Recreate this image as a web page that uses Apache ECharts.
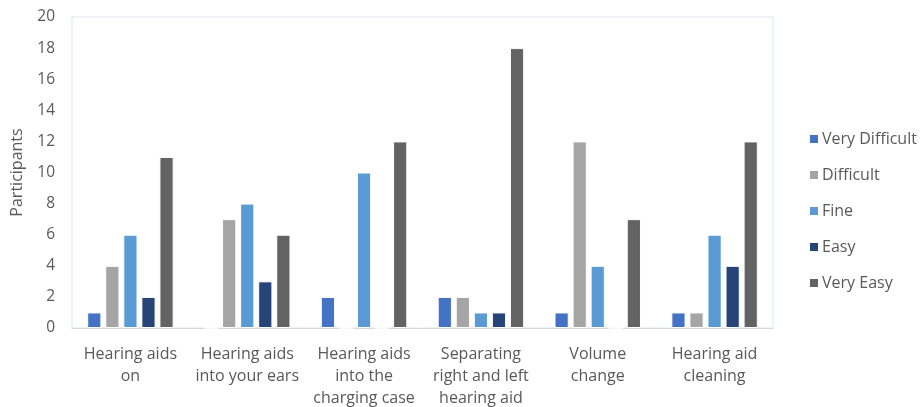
<!DOCTYPE html>
<html>
<head>
<meta charset="utf-8">
<script src="https://cdn.jsdelivr.net/npm/echarts@6/dist/echarts.min.js"></script>
<style>
  html, body { margin: 0; padding: 0; background: #fff; }
  #chart { width: 923px; height: 407px; }
</style>
</head>
<body>
<div id="chart"></div>
<script>
// Tasks rated by participants
const categories = [
  'Hearing aids\non',
  'Hearing aids\ninto your ears',
  'Hearing aids\ninto the\ncharging case',
  'Separating\nright and left\nhearing aid',
  'Volume\nchange',
  'Hearing aid\ncleaning'
];

// Ratings per task
const veryDifficult = [1, 0, 2, 2, 1, 1];
const difficult     = [4, 7, 0, 2, 12, 1];
const fine          = [6, 8, 10, 1, 4, 6];
const easy          = [2, 3, 0, 1, 0, 4];
const veryEasy      = [11, 6, 12, 18, 7, 12];

const yTicks = { min: 0, max: 20, interval: 2 };

const seriesDefs = [
  { name: 'Very Difficult', data: veryDifficult, color: '#4472C4' },
  { name: 'Difficult',      data: difficult,     color: '#A5A5A5' },
  { name: 'Fine',           data: fine,          color: '#5B9BD5' },
  { name: 'Easy',           data: easy,          color: '#264478' },
  { name: 'Very Easy',      data: veryEasy,      color: '#636363' }
];

const FONT = 'Open Sans';
const TEXT = '#595959';

const chart = echarts.init(document.getElementById('chart'), null, { renderer: 'canvas' });
chart.setOption({
  animation: false,
  textStyle: { fontFamily: FONT },
  grid: {
    left: 72, top: 17, width: 701, height: 311,
    containLabel: false,
    outerBoundsMode: 'none',
    show: true, borderColor: '#dde7f4', borderWidth: 1, backgroundColor: 'transparent'
  },
  legend: {
    orient: 'vertical',
    left: 803, top: 126,
    itemWidth: 10, itemHeight: 10, itemGap: 20,
    icon: 'rect',
    textStyle: { fontFamily: FONT, fontSize: 16, color: TEXT, padding: [0, 0, 0, -2] },
    data: seriesDefs.map(s => s.name)
  },
  xAxis: {
    type: 'category',
    data: categories,
    axisLine: { lineStyle: { color: '#d9d9d9', width: 1 } },
    axisTick: { show: false },
    axisLabel: {
      interval: 0, margin: 15, fontFamily: FONT, fontSize: 16, color: TEXT, lineHeight: 22
    }
  },
  yAxis: {
    type: 'value',
    min: yTicks.min, max: yTicks.max, interval: yTicks.interval,
    name: 'Participants',
    nameLocation: 'middle',
    nameGap: 47,
    nameTextStyle: { fontFamily: FONT, fontSize: 16, color: TEXT },
    axisLine: { show: false },
    axisTick: { show: false },
    splitLine: { show: false },
    axisLabel: { margin: 17, fontFamily: FONT, fontSize: 15.5, color: TEXT }
  },
  series: seriesDefs.map(s => ({
    name: s.name,
    type: 'bar',
    data: s.data,
    barGap: '27%',
    barCategoryGap: '26%',
    itemStyle: { color: s.color, borderColor: '#ffffff', borderWidth: 1 }
  }))
});
</script>
</body>
</html>
